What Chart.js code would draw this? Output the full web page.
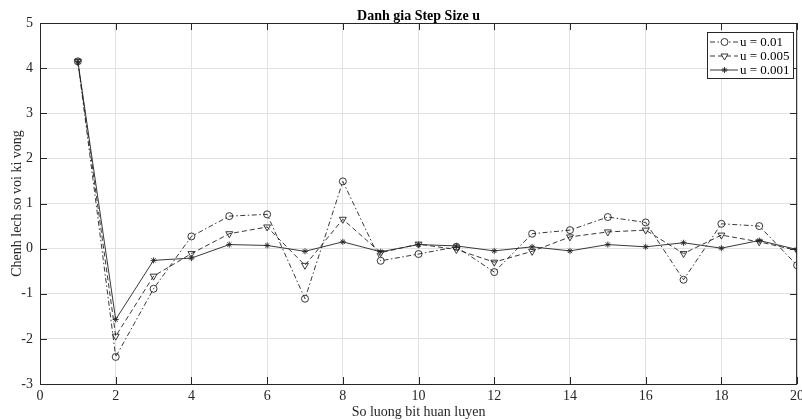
<!DOCTYPE html>
<html>
<head>
<meta charset="utf-8">
<script src="https://cdn.jsdelivr.net/npm/chart.js@4.4.1/dist/chart.umd.min.js"></script>
<style>
  html, body { margin: 0; padding: 0; background: #fff; }
</style>
</head>
<body>
<canvas id="chart" width="802" height="420"></canvas>
<script>
// so luong bit huan luyen
const bitCount = [1, 2, 3, 4, 5, 6, 7, 8, 9, 10, 11, 12, 13, 14, 15, 16, 17, 18, 19, 20];
// chenh lech cho tung step size
const stepLarge = [4.15, -2.40, -0.89, 0.27, 0.72, 0.76, -1.11, 1.49, -0.27, -0.12, 0.04, -0.52, 0.33, 0.41, 0.70, 0.58, -0.69, 0.55, 0.50, -0.37];
const stepMid = [4.15, -1.94, -0.61, -0.11, 0.33, 0.48, -0.37, 0.65, -0.09, 0.10, -0.02, -0.30, -0.06, 0.26, 0.37, 0.41, -0.11, 0.30, 0.15, -0.04];
const stepSmall = [4.15, -1.57, -0.26, -0.21, 0.09, 0.07, -0.06, 0.15, -0.07, 0.09, 0.06, -0.05, 0.04, -0.05, 0.09, 0.04, 0.13, 0.01, 0.18, -0.02];
const seriesNames = ['u = 0.01', 'u = 0.005', 'u = 0.001'];
const xTicks = [0, 2, 4, 6, 8, 10, 12, 14, 16, 18, 20];
const yTicks = [-3, -2, -1, 0, 1, 2, 3, 4, 5];

const serif = '"Liberation Serif", "DejaVu Serif", serif';
const ink = '#222';

function toPoints(vals) {
  return bitCount.map((x, i) => ({ x: x, y: vals[i] }));
}

const styles = [
  { dash: [5, 2.5, 1.5, 2.5], point: 'circle', rot: 0, r: 3.5 },
  { dash: [5, 3], point: 'triangle', rot: 180, r: 4 },
  { dash: [], point: 'star', rot: 0, r: 3 }
];

const datasets = [stepLarge, stepMid, stepSmall].map((vals, i) => ({
  label: seriesNames[i],
  data: toPoints(vals),
  borderColor: ink,
  borderWidth: 0.9,
  borderDash: styles[i].dash,
  backgroundColor: 'rgba(0,0,0,0)',
  pointStyle: styles[i].point,
  pointRotation: styles[i].rot,
  pointRadius: styles[i].r,
  pointBorderColor: ink,
  pointBorderWidth: 0.9,
  pointBackgroundColor: 'rgba(0,0,0,0)',
  tension: 0
}));

// khung kieu MATLAB: vien, tick huong vao trong, tieu de, chu thich
const frame = {
  id: 'frame',
  afterDraw(chart) {
    const ctx = chart.ctx;
    const a = chart.chartArea;
    const xs = chart.scales.x, ys = chart.scales.y;
    ctx.save();
    ctx.strokeStyle = '#262626';
    ctx.lineWidth = 1;
    ctx.beginPath();
    xTicks.forEach(t => {
      const px = Math.round(xs.getPixelForValue(t)) + 0.5;
      ctx.moveTo(px, a.bottom); ctx.lineTo(px, a.bottom - 7);
      ctx.moveTo(px, a.top); ctx.lineTo(px, a.top + 7);
    });
    yTicks.forEach(t => {
      const py = Math.round(ys.getPixelForValue(t)) + 0.5;
      ctx.moveTo(a.left, py); ctx.lineTo(a.left + 7, py);
      ctx.moveTo(a.right, py); ctx.lineTo(a.right - 7, py);
    });
    ctx.stroke();
    ctx.strokeRect(a.left + 0.5, a.top + 0.5, a.right - a.left - 1, a.bottom - a.top);

    // tieu de
    ctx.fillStyle = '#000';
    ctx.textAlign = 'center';
    ctx.textBaseline = 'alphabetic';
    ctx.font = 'bold 14px ' + serif;
    const cx = (a.left + a.right) / 2;
    ctx.fillText('Danh gia Step Size u', cx, 20);
    ctx.font = '14px ' + serif;
    ctx.fillStyle = '#262626';
    ctx.fillText('So luong bit huan luyen', cx, 416);
    ctx.save();
    ctx.translate(21, (a.top + a.bottom) / 2);
    ctx.rotate(-Math.PI / 2);
    ctx.fillText('Chenh lech so voi ki vong', 0, 0);
    ctx.restore();

    // chu thich
    const bx = 707, by = 32, bw = 86, bh = 46;
    ctx.fillStyle = '#fff';
    ctx.fillRect(bx, by, bw, bh);
    ctx.strokeStyle = '#262626';
    ctx.strokeRect(bx + 0.5, by + 0.5, bw, bh);
    datasets.forEach((ds, i) => {
      const ly = by + 10 + i * 14;
      ctx.strokeStyle = ink;
      ctx.lineWidth = 0.9;
      ctx.setLineDash(ds.borderDash);
      ctx.beginPath();
      ctx.moveTo(bx + 3, ly);
      ctx.lineTo(bx + 31, ly);
      ctx.stroke();
      ctx.setLineDash([]);
      ctx.fillStyle = '#fff';
      Chart.helpers.drawPoint(ctx, {
        pointStyle: ds.pointStyle,
        rotation: ds.pointRotation,
        radius: ds.pointRadius,
        borderWidth: 0.9
      }, bx + 17.5, ly);
      ctx.fillStyle = '#000';
      ctx.textAlign = 'left';
      ctx.textBaseline = 'middle';
      ctx.font = '13px ' + serif;
      ctx.fillText(ds.label, bx + 33, ly + 1);
    });
    ctx.restore();
  }
};

const ctx = document.getElementById('chart').getContext('2d');
const chart = new Chart(ctx, {
  type: 'line',
  data: { datasets: datasets },
  options: {
    responsive: false,
    animation: false,
    layout: { padding: { top: 23, right: 1, left: 0, bottom: 0 } },
    plugins: {
      legend: { display: false },
      tooltip: { enabled: false }
    },
    scales: {
      x: {
        type: 'linear',
        min: 0,
        max: 20,
        afterBuildTicks(scale) { scale.ticks = xTicks.map(v => ({ value: v })); },
        afterFit(scale) { scale.height = 36; scale.paddingLeft = 0; scale.paddingRight = 0; },
        ticks: { autoSkip: false, maxRotation: 0, padding: 4, color: '#262626', font: { family: serif, size: 14 } },
        grid: { color: '#e2e2e2', lineWidth: 1, drawTicks: false },
        border: { display: false }
      },
      y: {
        type: 'linear',
        min: -3,
        max: 5,
        afterBuildTicks(scale) { scale.ticks = yTicks.map(v => ({ value: v })); },
        afterFit(scale) { scale.width = 40; scale.paddingTop = 0; scale.paddingBottom = 0; },
        ticks: { autoSkip: false, padding: 7, color: '#262626', font: { family: serif, size: 14 } },
        grid: { color: '#e2e2e2', lineWidth: 1, drawTicks: false },
        border: { display: false }
      }
    }
  },
  plugins: [frame]
});
</script>
</body>
</html>
